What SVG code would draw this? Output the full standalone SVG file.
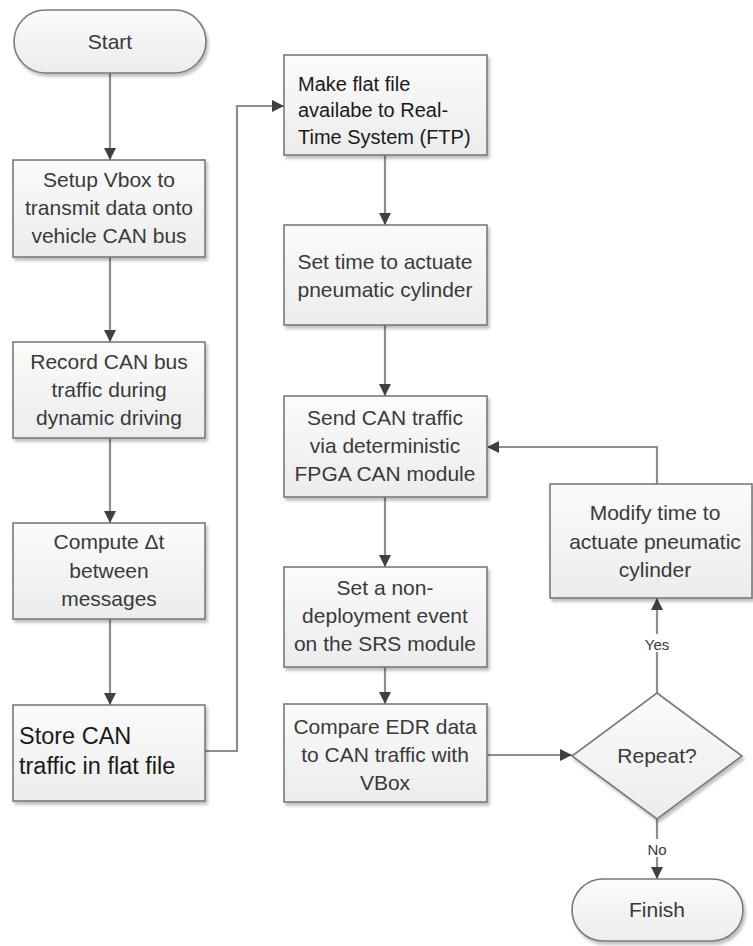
<svg xmlns="http://www.w3.org/2000/svg" width="753" height="946" viewBox="0 0 753 946">
  <defs>
    <linearGradient id="boxFill" x1="0" y1="0" x2="0" y2="1">
      <stop offset="0" stop-color="#fbfbfb"/>
      <stop offset="1" stop-color="#ececec"/>
    </linearGradient>
    <filter id="shadow" x="-10%" y="-10%" width="125%" height="130%">
      <feGaussianBlur in="SourceAlpha" stdDeviation="1.5"/>
      <feOffset dx="2" dy="3" result="b"/>
      <feComponentTransfer><feFuncA type="linear" slope="0.25"/></feComponentTransfer>
      <feMerge><feMergeNode/><feMergeNode in="SourceGraphic"/></feMerge>
    </filter>
    <marker id="arrow" viewBox="0 0 10 10" refX="10" refY="5" markerWidth="12" markerHeight="12" markerUnits="userSpaceOnUse" orient="auto">
      <path d="M0,0 L10,5 L0,10 Z" fill="#404040"/>
    </marker>
  </defs>
  <style>
    .shape { fill: url(#boxFill); stroke: #7a7a7a; stroke-width: 1.6; filter: url(#shadow); }
    .label { font-family: "Liberation Sans", Arial, sans-serif; font-size: 21px; fill: #3a3a3a; text-anchor: middle; }
    .left { font-family: "Liberation Sans", Arial, sans-serif; font-size: 20px; fill: #1a1a1a; text-anchor: start; }
    .big { font-size: 23.5px; }
    .small { font-family: "Liberation Sans", Arial, sans-serif; font-size: 15px; fill: #3a3a3a; text-anchor: middle; }
    .conn { fill: none; stroke: #8e8e8e; stroke-width: 2.2; marker-end: url(#arrow); }
  </style>
  <rect width="753" height="946" fill="#ffffff"/>

  <g id="connectors">
    <path class="conn" d="M110,73 L110,160"/>
    <path class="conn" d="M110,257 L110,342"/>
    <path class="conn" d="M110,438 L110,523"/>
    <path class="conn" d="M110,619 L110,705"/>
    <path class="conn" d="M205,751 L237,751 L237,106 L284,106"/>
    <path class="conn" d="M385,155 L385,225"/>
    <path class="conn" d="M385,325 L385,396"/>
    <path class="conn" d="M385,497 L385,567"/>
    <path class="conn" d="M385,667 L385,704"/>
    <path class="conn" d="M487,755 L572,755"/>
    <path class="conn" d="M657,693 L657,598"/>
    <path class="conn" d="M657,484 L657,447 L487,447"/>
    <path class="conn" d="M657,819 L657,879"/>
    <rect x="641" y="634" width="32" height="18" fill="#ffffff"/>
    <text class="small" x="657" y="650">Yes</text>
    <rect x="644" y="839" width="26" height="18" fill="#ffffff"/>
    <text class="small" x="657" y="855">No</text>
  </g>

  <g id="start">
    <rect class="shape" x="14" y="10" width="192" height="63" rx="31.5" ry="31.5"/>
    <text class="label" x="110" y="49">Start</text>
  </g>

  <g id="setup-vbox">
    <rect class="shape" x="13" y="160" width="192" height="97"/>
    <text class="label" x="109" y="187">Setup Vbox to</text>
    <text class="label" x="109" y="215">transmit data onto</text>
    <text class="label" x="109" y="243">vehicle CAN bus</text>
  </g>

  <g id="record-can">
    <rect class="shape" x="13" y="342" width="192" height="96"/>
    <text class="label" x="109" y="369">Record CAN bus</text>
    <text class="label" x="109" y="397">traffic during</text>
    <text class="label" x="109" y="425">dynamic driving</text>
  </g>

  <g id="compute-dt">
    <rect class="shape" x="13" y="523" width="192" height="96"/>
    <text class="label" x="109" y="549">Compute Δt</text>
    <text class="label" x="109" y="578">between</text>
    <text class="label" x="109" y="606">messages</text>
  </g>

  <g id="store-can">
    <rect class="shape" x="13" y="705" width="192" height="96"/>
    <text class="left big" x="19" y="744">Store CAN</text>
    <text class="left big" x="19" y="774">traffic in flat file</text>
  </g>

  <g id="make-flat-file">
    <rect class="shape" x="284" y="55" width="203" height="100"/>
    <text class="left" x="298" y="91">Make flat file</text>
    <text class="left" x="298" y="117">availabe to Real-</text>
    <text class="left" x="298" y="144">Time System (FTP)</text>
  </g>

  <g id="set-time">
    <rect class="shape" x="284" y="225" width="203" height="100"/>
    <text class="label" x="385" y="269">Set time to actuate</text>
    <text class="label" x="385" y="297">pneumatic cylinder</text>
  </g>

  <g id="send-can">
    <rect class="shape" x="284" y="396" width="203" height="101"/>
    <text class="label" x="385" y="425">Send CAN traffic</text>
    <text class="label" x="385" y="453">via deterministic</text>
    <text class="label" x="385" y="481">FPGA CAN module</text>
  </g>

  <g id="set-non-deployment">
    <rect class="shape" x="284" y="567" width="203" height="100"/>
    <text class="label" x="385" y="595">Set a non-</text>
    <text class="label" x="385" y="623">deployment event</text>
    <text class="label" x="385" y="651">on the SRS module</text>
  </g>

  <g id="compare-edr">
    <rect class="shape" x="284" y="704" width="203" height="98"/>
    <text class="label" x="385" y="734">Compare EDR data</text>
    <text class="label" x="385" y="762">to CAN traffic with</text>
    <text class="label" x="385" y="790">VBox</text>
  </g>

  <g id="modify-time">
    <rect class="shape" x="550" y="484" width="202" height="114"/>
    <text class="label" x="655" y="520">Modify time to</text>
    <text class="label" x="655" y="549">actuate pneumatic</text>
    <text class="label" x="655" y="577">cylinder</text>
  </g>

  <g id="repeat">
    <polygon class="shape" points="657,693 742,756 657,819 572,756"/>
    <text class="label" x="657" y="763">Repeat?</text>
  </g>

  <g id="finish">
    <rect class="shape" x="572" y="879" width="171" height="62" rx="31" ry="31"/>
    <text class="label" x="657" y="917">Finish</text>
  </g>
</svg>
